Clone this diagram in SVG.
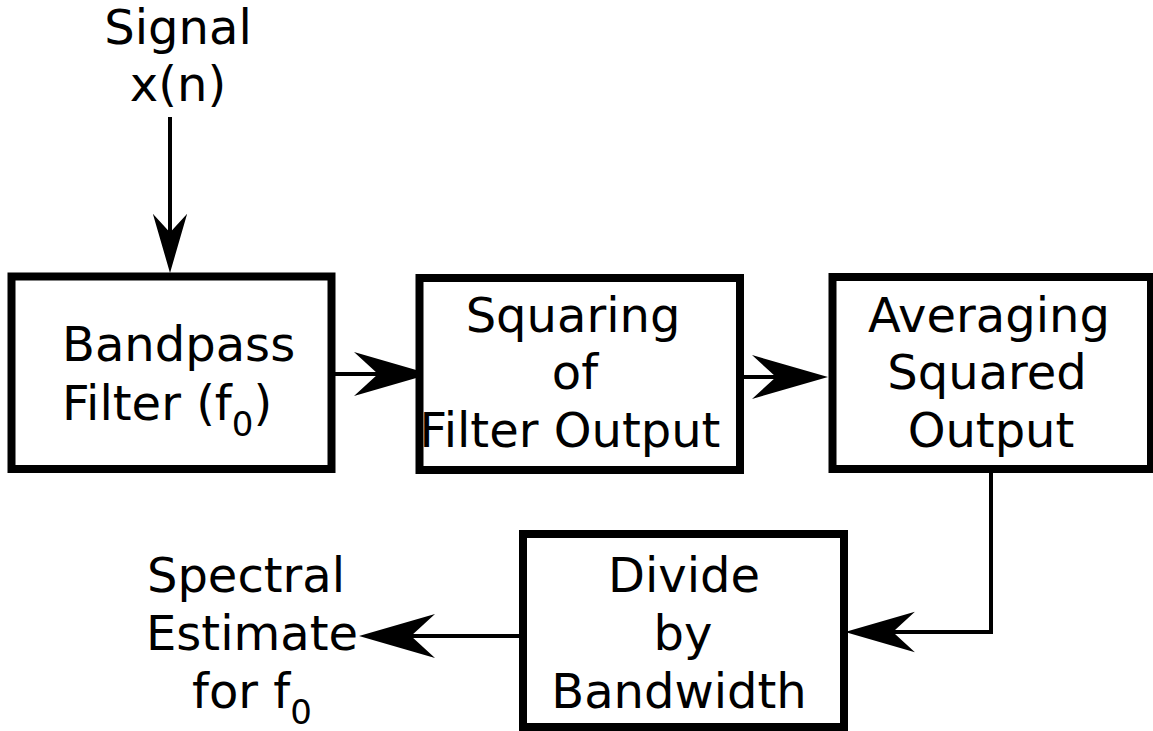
<svg xmlns="http://www.w3.org/2000/svg" width="1153" height="731" viewBox="0 0 1153 731">
<style>
.box{fill:#fff;stroke:#000;stroke-width:8}
.ln{fill:none;stroke:#000;stroke-width:4}
.t{font-family:"DejaVu Sans",Verdana,sans-serif;font-size:48px;fill:#000}
.c{text-anchor:middle}
.sub{font-size:34px}
</style>
<defs>
<path id="ah" d="M0,0 L-76,-22 L-52,0 L-76,22 Z" fill="#000"/>
</defs>
<rect width="1153" height="731" fill="#fff"/>
<g id="connectors">
<line class="ln" x1="170" y1="117" x2="170" y2="245"/>
<use href="#ah" transform="translate(170,273) rotate(90) scale(0.78)"/>
<line class="ln" x1="335" y1="374" x2="400" y2="374"/>
<use href="#ah" transform="translate(430,374)"/>
<line class="ln" x1="735" y1="377" x2="800" y2="377"/>
<use href="#ah" transform="translate(828,377)"/>
<polyline class="ln" points="991,473 991,632 880,632"/>
<use href="#ah" transform="translate(845,632) rotate(180) scale(0.92)"/>
<line class="ln" x1="521" y1="636" x2="390" y2="636"/>
<use href="#ah" transform="translate(359,636) rotate(180)"/>
</g>
<g id="signal">
<text class="t c" x="178" y="44">Signal</text>
<text class="t c" x="178" y="101">x(n)</text>
</g>
<g id="bandpass">
<rect class="box" x="11.5" y="276.5" width="320" height="192.5"/>
<text class="t" x="62" y="361">Bandpass</text>
<text class="t" x="62" y="420">Filter (f<tspan class="sub" dy="16">0</tspan><tspan dy="-16">)</tspan></text>
</g>
<g id="squaring">
<rect class="box" x="419.5" y="278" width="320.5" height="192"/>
<text class="t c" x="573" y="332">Squaring</text>
<text class="t c" x="575" y="389">of</text>
<text class="t c" x="570" y="447">Filter Output</text>
</g>
<g id="averaging">
<rect class="box" x="832.5" y="277" width="318.5" height="192"/>
<text class="t c" x="989" y="332">Averaging</text>
<text class="t c" x="987" y="389">Squared</text>
<text class="t c" x="991" y="447">Output</text>
</g>
<g id="divide">
<rect class="box" x="523" y="534" width="321" height="193"/>
<text class="t c" x="684" y="592">Divide</text>
<text class="t c" x="683" y="650">by</text>
<text class="t c" x="679" y="708">Bandwidth</text>
</g>
<g id="estimate">
<text class="t c" x="246" y="592">Spectral</text>
<text class="t c" x="252" y="650">Estimate</text>
<text class="t c" x="252" y="708">for f<tspan class="sub" dy="16">0</tspan></text>
</g>
</svg>
